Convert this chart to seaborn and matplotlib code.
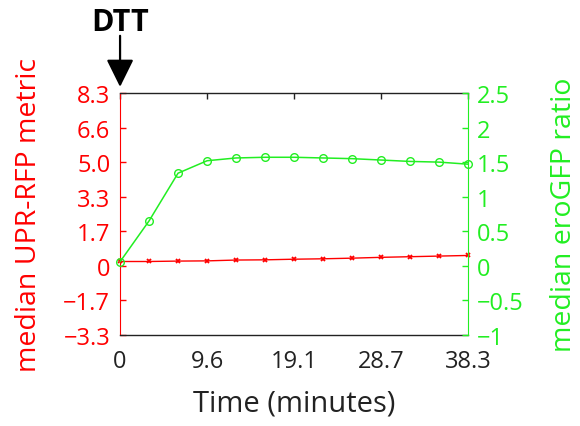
import matplotlib.pyplot as plt
import seaborn as sns
import pandas as pd

# =========================================================
# DATA
# =========================================================

time_min = [0, 3.19, 6.38, 9.58, 12.77, 15.96, 19.15,
            22.34, 25.53, 28.73, 31.92, 35.11, 38.3]

upr_rfp = [0.21, 0.21, 0.23, 0.24, 0.28, 0.29, 0.32,
           0.34, 0.37, 0.41, 0.44, 0.47, 0.50]

ero_gfp = [0.06, 0.65, 1.34, 1.52, 1.56, 1.57, 1.57,
           1.56, 1.55, 1.53, 1.51, 1.50, 1.47]

x_ticks = [0, 9.575, 19.15, 28.725, 38.3]
x_tick_labels = ["0", "9.6", "19.1", "28.7", "38.3"]

left_ticks = [-3.32, -1.66, 0, 1.66, 3.32, 4.98, 6.64, 8.3]
left_tick_labels = ["\u22123.3", "\u22121.7", "0", "1.7", "3.3", "5.0", "6.6", "8.3"]

right_ticks = [-1, -0.5, 0, 0.5, 1, 1.5, 2, 2.5]
right_tick_labels = ["\u22121", "\u22120.5", "0", "0.5", "1", "1.5", "2", "2.5"]

df = pd.DataFrame({"time": time_min, "upr": upr_rfp, "gfp": ero_gfp})

RED = "#ff0000"
GREEN = "#22ee22"
DARK = "#222222"

# =========================================================
# STYLE
# =========================================================

sns.set_style("white")
plt.rcParams["font.family"] = ["Open Sans", "DejaVu Sans"]

fig = plt.figure(figsize=(5.8, 4.27), dpi=100)
ax = fig.add_axes([0.207, 0.213, 0.600, 0.567])
ax2 = ax.twinx()

# =========================================================
# LINES
# =========================================================

sns.lineplot(data=df, x="time", y="upr", ax=ax, color=RED,
             marker="x", markersize=3.5, markeredgewidth=1.3,
             markeredgecolor=RED, linewidth=1.0, clip_on=False)

sns.lineplot(data=df, x="time", y="gfp", ax=ax2, color=GREEN,
             marker="o", markersize=5.5, markerfacecolor="none",
             markeredgecolor=GREEN, markeredgewidth=1.0,
             linewidth=1.1, clip_on=False)

# =========================================================
# AXES
# =========================================================

ax.set_xlim(0, 38.3)
ax.set_ylim(-3.32, 8.3)
ax2.set_ylim(-1, 2.5)

ax.set_xticks(x_ticks)
ax.set_xticklabels(x_tick_labels)
ax.set_yticks(left_ticks)
ax.set_yticklabels(left_tick_labels)
ax2.set_yticks(right_ticks)
ax2.set_yticklabels(right_tick_labels)

ax.tick_params(axis="x", direction="in", top=True, length=4, width=1,
               labelsize=17, pad=10, colors=DARK)
ax.tick_params(axis="y", direction="in", right=False, length=4, width=1,
               labelsize=17, pad=7, colors=RED)
ax2.tick_params(axis="y", direction="in", length=4, width=1,
                labelsize=17, pad=6, colors=GREEN)

for side in ["top", "bottom"]:
    ax.spines[side].set_color(DARK)
    ax.spines[side].set_linewidth(1.0)
ax.spines["left"].set_color(RED)
ax.spines["right"].set_visible(False)
ax2.spines["left"].set_visible(False)
ax2.spines["top"].set_visible(False)
ax2.spines["bottom"].set_visible(False)
ax2.spines["right"].set_color(GREEN)

ax.set_xlabel("Time (minutes)", fontsize=21, color=DARK, labelpad=11)
ax.set_ylabel("median UPR-RFP metric", fontsize=20.5, color=RED, labelpad=15)
ax2.set_ylabel("median eroGFP ratio", fontsize=20.5, color=GREEN,
               rotation=90, labelpad=19)

# =========================================================
# DTT ARROW
# =========================================================

ax.annotate("", xy=(0, 1.025), xytext=(0, 1.236),
            xycoords="axes fraction", textcoords="axes fraction",
            arrowprops=dict(arrowstyle="-|>,head_length=0.85,head_width=0.42",
                            color="black", lw=1.6, mutation_scale=20,
                            shrinkA=0, shrinkB=0),
            annotation_clip=False)

ax.text(0, 1.295, "DTT", transform=ax.transAxes, ha="center", va="center",
        fontsize=22, fontweight="bold", color="black")

plt.savefig("out.png", dpi=100)
